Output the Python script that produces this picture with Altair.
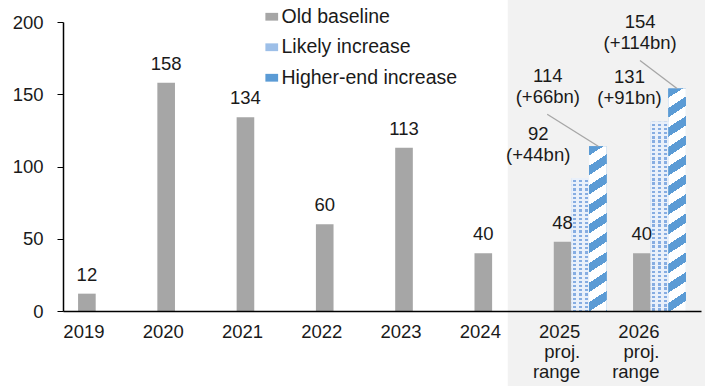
import math
import altair as alt
import pandas as pd

# ---------------- data ----------------
periods = ["2019", "2020", "2021", "2022", "2023", "2024",
           "2025\nproj.\nrange", "2026\nproj.\nrange"]
series = ["Old baseline", "Likely increase", "Higher-end increase"]
old_baseline = [12, 158, 134, 60, 113, 40, 48, 40]
likely_increase = [None, None, None, None, None, None, 92, 131]
higher_end_increase = [None, None, None, None, None, None, 114, 154]
likely_labels = [None, None, None, None, None, None, "92\n(+44bn)", "131\n(+91bn)"]
higher_labels = [None, None, None, None, None, None, "114\n(+66bn)", "154\n(+114bn)"]
y_ticks = [0, 50, 100, 150, 200]

# ---------------- style ----------------
W, H = 638, 289
PAD = {"left": 63, "top": 22, "right": 4, "bottom": 75}
FONT = "Liberation Sans"
FS = 18.5
LFS = 19.5
TEXT = "#1a1a1a"
GREY = "#a6a6a6"
BLUE = "#5b9bd5"
LIGHTBLUE = "#9dbfe8"
DOT = "#86ade2"
PALE = "#e9f0fa"
CLEAR = "rgba(233,240,250,0)"
SHADE = "#f2f2f2"
LEADER = "#a6a6a6"
Y_MAX = 200
P_INNER = 0.333
P_OUTER = 0.19
STEP = W / (len(periods) - P_INNER + 2 * P_OUTER)
BAR_W = STEP * (1 - P_INNER) / len(series)

# label offsets (dx, dy) for projection labels, in order of appearance
label_offsets = {
    "Likely increase": [(-42, -38.5), (-30, -38.5)],
    "Higher-end increase": [(-50, -64), (-37, -60)],
}
# leader lines: (start dx from group centre, end dx, end dy)
leader_offsets = [(18, -33, -32), (17.5, -19.5, -28)]

# ---------------- tables ----------------
rows = []
for i, p in enumerate(periods):
    for s, vals in zip(series, [old_baseline, likely_increase, higher_end_increase]):
        if vals[i] is not None:
            rows.append({"period": p, "series": s, "value": vals[i]})
df = pd.DataFrame(rows)

ann = []
for s, vals, labs in [("Likely increase", likely_increase, likely_labels),
                      ("Higher-end increase", higher_end_increase, higher_labels)]:
    for i, p in enumerate(periods):
        if labs[i] is not None:
            ann.append({"period": p, "series": s, "value": vals[i], "label": labs[i]})
ann_df = pd.DataFrame(ann)


# ---------------- gradients (patterns) ----------------
def stop(o, c):
    return alt.GradientStop(offset=max(0.0, min(1.0, o)), color=c)


def hatch(value, period=19.5, slope=0.65, frac=0.48):
    w = BAR_W
    h = value * H / Y_MAX
    L = slope * w + h
    k = L / (slope ** 2 * w ** 2 + h ** 2)
    dt = period / L
    stops = []
    i = 0
    while i * dt < 1:
        a = i * dt
        b = a + frac * dt
        c = (i + 1) * dt
        stops += [stop(a, BLUE), stop(b, BLUE), stop(b, "#ffffff"), stop(c, "#ffffff")]
        i += 1
    return alt.LinearGradient(gradient="linear", stops=stops,
                              x1=0, y1=0, x2=k * slope * w, y2=k * h)


def dot_columns(cols=3, dot=3.0):
    w = BAR_W
    stops = [stop(0, PALE)]
    for j in range(cols):
        c = (j + 0.5) / cols
        a = c - dot / 2 / w
        b = c + dot / 2 / w
        stops += [stop(a, PALE), stop(a, DOT), stop(b, DOT), stop(b, PALE)]
    stops.append(stop(1, PALE))
    return alt.LinearGradient(gradient="linear", stops=stops, x1=0, y1=0, x2=1, y2=0)


def dot_rows(value, pitch=4.2, gap=1.9):
    h = value * H / Y_MAX
    stops = []
    i = 0
    while i * pitch < h:
        a = i * pitch / h
        b = (i * pitch + gap) / h
        c = (i + 1) * pitch / h
        stops += [stop(a, PALE), stop(b, PALE), stop(b, CLEAR), stop(c, CLEAR)]
        i += 1
    return alt.LinearGradient(gradient="linear", stops=stops, x1=0, y1=0, x2=0, y2=1)


# ---------------- encodings ----------------
X = alt.X("period:N", sort=periods,
          scale=alt.Scale(domain=periods, paddingInner=P_INNER, paddingOuter=P_OUTER),
          axis=alt.Axis(title=None, labelAngle=0, ticks=False, tickSize=0, labelPadding=20,
                        labelFontSize=FS, labelFont=FONT, labelColor=TEXT,
                        labelExpr="split(datum.label, '\\n')", labelLineHeight=20,
                        domainColor="#000000", domainWidth=1.5, grid=False, zindex=1))
XO = alt.XOffset("series:N", sort=series,
                 scale=alt.Scale(domain=series, paddingInner=0, paddingOuter=0))
Y = alt.Y("value:Q", scale=alt.Scale(domain=[0, Y_MAX], nice=False),
          axis=alt.Axis(title=None, values=y_ticks, tickSize=6, tickColor="#000000",
                        labelPadding=14, labelFontSize=FS, labelFont=FONT, labelColor=TEXT,
                        domainColor="#000000", domainWidth=1.5, grid=False, zindex=1))

# background shading for projections
bg = alt.Chart(pd.DataFrame({"panel": ["projection"]})).mark_rect(
    color=SHADE, xOffset=-46
).encode(
    x=alt.XDatum(periods[6], type="nominal", bandPosition=0),
    x2=alt.value(W + PAD["right"]),
    y=alt.value(-PAD["top"]),
    y2=alt.value(H + PAD["bottom"]),
)

bars = alt.Chart(df).mark_bar().encode(
    x=X, xOffset=XO, y=Y,
    color=alt.Color("series:N", sort=series,
                    scale=alt.Scale(domain=series, range=[GREY, LIGHTBLUE, BLUE]),
                    legend=alt.Legend(title=None, orient="none", legendX=199, legendY=-15,
                                      direction="vertical",
                                      symbolType="M-0.9,-0.55H0.9V0.55H-0.9Z",
                                      symbolSize=200, symbolStrokeWidth=0,
                                      labelFontSize=LFS, labelFont=FONT, labelColor=TEXT,
                                      labelLimit=0, rowPadding=9.5, labelOffset=0,
                                      padding=0)),
)

layers = [bg, bars]

# pattern overlays
for i, p in enumerate(periods):
    v = likely_increase[i]
    if v is not None:
        sub = alt.Chart(df).transform_filter(
            (alt.datum.period == p) & (alt.datum.series == "Likely increase"))
        layers.append(sub.mark_bar(fill=dot_columns()).encode(x=X, xOffset=XO, y=Y))
        layers.append(sub.mark_bar(fill=dot_rows(v)).encode(x=X, xOffset=XO, y=Y))
    v = higher_end_increase[i]
    if v is not None:
        sub = alt.Chart(df).transform_filter(
            (alt.datum.period == p) & (alt.datum.series == "Higher-end increase"))
        layers.append(sub.mark_bar(fill=hatch(v)).encode(x=X, xOffset=XO, y=Y))

# value labels on old baseline
layers.append(
    alt.Chart(df).transform_filter(alt.datum.series == "Old baseline").mark_text(
        dy=-13, baseline="alphabetic", align="center", fontSize=FS, font=FONT, color=TEXT
    ).encode(x=X, xOffset=XO, y=Y, text=alt.Text("value:Q", format="d"))
)

# projection labels
counters = {s: 0 for s in label_offsets}
for r in ann:
    dx, dy = label_offsets[r["series"]][counters[r["series"]]]
    counters[r["series"]] += 1
    layers.append(
        alt.Chart(ann_df).transform_filter(
            (alt.datum.period == r["period"]) & (alt.datum.series == r["series"])
        ).mark_text(dx=dx, dy=dy, baseline="alphabetic", align="center", fontSize=FS,
                    font=FONT, color=TEXT, lineBreak="\n", lineHeight=21
        ).encode(x=X, xOffset=XO, y=Y, text="label:N")
    )

# leader lines for higher-end labels
j = 0
for i, p in enumerate(periods):
    if higher_end_increase[i] is not None:
        sx, ex, ey = leader_offsets[j]
        j += 1
        layers.append(
            alt.Chart(ann_df).transform_filter(
                (alt.datum.period == p) & (alt.datum.series == "Higher-end increase")
            ).mark_rule(color=LEADER, strokeWidth=1.3, xOffset=sx, x2Offset=ex, y2Offset=ey
            ).encode(x=X, x2=alt.X2("period"), y=Y, y2=alt.Y2("value"))
        )

chart = alt.layer(*layers).properties(
    width=W, height=H, padding=PAD,
    autosize=alt.AutoSizeParams(type="none"),
).configure_view(stroke=None)

chart.save("out.html", embed_options={"renderer": "svg", "actions": False})
